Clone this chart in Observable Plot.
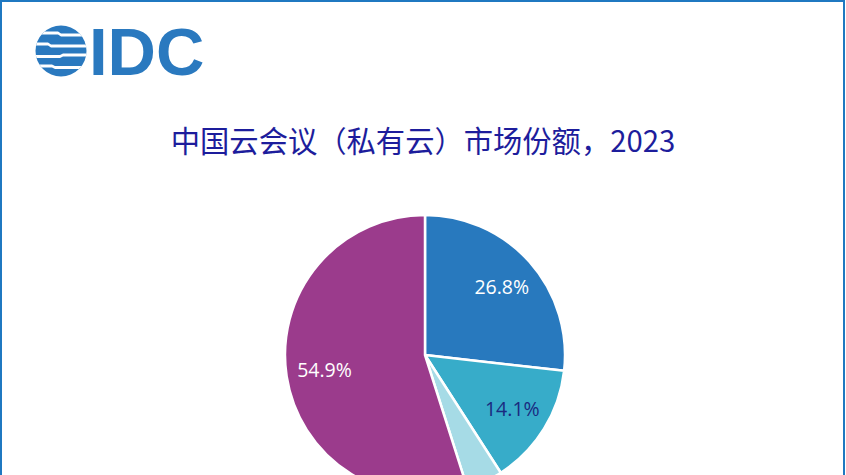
<!DOCTYPE html>
<html><head><meta charset="utf-8">
<script src="https://cdn.jsdelivr.net/npm/d3@7"></script>
<script src="https://cdn.jsdelivr.net/npm/@observablehq/plot@0.6"></script>
<style>
body{margin:0;background:#fff;}
#wrap{position:relative;width:846px;height:475px;overflow:hidden;background:#fff;}
#frame{position:absolute;left:0;top:0;width:841px;height:600px;border:2px solid #1f78c1;}
#logo{position:absolute;left:0;top:0;}
#title{position:absolute;left:0;width:846px;top:119px;text-align:center;font-family:"Noto Sans CJK SC","Noto Sans",sans-serif;font-size:29.3px;color:#1d1d9c;line-height:40px;white-space:nowrap;}
#chart{position:absolute;left:0;top:170px;}
</style>
</head><body>
<div id="wrap">
  <div id="frame"></div>
  <svg id="logo" width="260" height="100" xmlns="http://www.w3.org/2000/svg">
    <defs><clipPath id="globe"><circle cx="61" cy="51" r="25.5"/></clipPath></defs>
    <g clip-path="url(#globe)">
      <rect x="30" y="20" width="70" height="62" fill="#2a79bf"/>
      <path d="M30 31.5 H58 L61 33.5 H95 V36.5 H61 L58 34.5 H30 Z" fill="#fff"/>
      <path d="M30 42.5 H48 L51 44.5 H95 V47.5 H51 L48 45.5 H30 Z" fill="#fff"/>
      <path d="M30 55 H60 L63 53.5 H95 V56.5 H63 L60 58 H30 Z" fill="#fff"/>
      <path d="M30 64.5 H52 L55 66 H95 V69 H55 L52 67.5 H30 Z" fill="#fff"/>
    </g>
    <text x="89" y="75" font-family="Liberation Sans, Arial, sans-serif" font-weight="bold" font-size="67" fill="#2a79bf">IDC</text>
  </svg>
  <div id="title">中国云会议（私有云）市场份额，2023</div>
  <div id="chart"></div>
</div>
<script>
// Data
const categories = ["厂商A", "厂商B", "其他", "厂商C"];
const shares = [26.8, 14.1, 4.2, 54.9];
const shareLabels = ["26.8%", "14.1%", "4.2%", "54.9%"];
const palette = ["#2879be", "#37acc9", "#a6dbe6", "#9b3b8c"];
const labelInk = ["#ffffff", "#1a2a80", "#1a2a80", "#ffffff"];

const rows = categories.map((name, i) => ({name, value: shares[i], label: shareLabels[i], ink: labelInk[i]}));
const arcs = d3.pie().sort(null).value(d => d.value)(rows);
const labelR = 0.73;
const labelRows = arcs.filter(a => a.data.value >= 5).map(a => {
  const m = (a.startAngle + a.endAngle) / 2;
  return {...a.data, x: labelR * Math.sin(m), y: labelR * Math.cos(m)};
});

const colorOf = d3.scaleOrdinal(categories, palette);

function pieMark(index, scales, values, dimensions, context) {
  const cx = scales.x(0), cy = scales.y(0), r = scales.x(1) - scales.x(0);
  const arc = d3.arc().innerRadius(0).outerRadius(r);
  const g = d3.create("svg:g").attr("transform", `translate(${cx},${cy})`);
  g.selectAll("path").data(arcs).join("path")
    .attr("d", arc)
    .attr("fill", d => colorOf(d.data.name))
    .attr("stroke", "#fff")
    .attr("stroke-width", 2.5)
    .attr("stroke-linejoin", "round");
  return g.node();
}

const plot = Plot.plot({
  width: 846,
  height: 305,
  margin: 0,
  style: {background: "transparent", overflow: "hidden"},
  x: {domain: [-1, 1], range: [285, 565], axis: null},
  y: {domain: [-1, 1], range: [325, 45], axis: null},
  marks: [
    pieMark,
    Plot.text(labelRows, {
      x: "x", y: "y", text: "label",
      fill: d => d.ink,
      fontSize: 19.5,
      fontFamily: "Open Sans, Noto Sans, sans-serif"
    })
  ]
});
document.getElementById("chart").appendChild(plot);
</script>
</body></html>
